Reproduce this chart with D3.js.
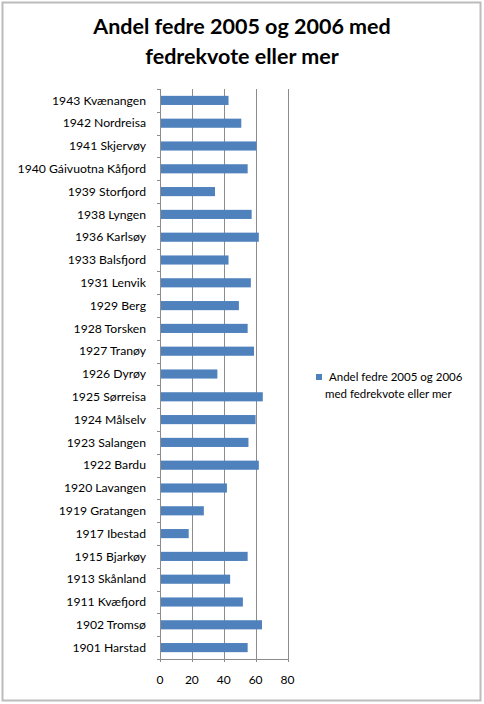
<!DOCTYPE html>
<html>
<head>
<meta charset="utf-8">
<script src="https://cdn.jsdelivr.net/npm/d3@7"></script>
<style>
  html, body { margin: 0; padding: 0; background: #fff; }
  svg { display: block; }
  text { font-family: Lato, "Open Sans", sans-serif; fill: #000; }
</style>
</head>
<body>
<svg id="chart" width="484" height="704"></svg>
<script>
const categories = [
  "1943 Kvænangen", "1942 Nordreisa", "1941 Skjervøy", "1940 Gáivuotna Kåfjord",
  "1939 Storfjord", "1938 Lyngen", "1936 Karlsøy", "1933 Balsfjord", "1931 Lenvik",
  "1929 Berg", "1928 Torsken", "1927 Tranøy", "1926 Dyrøy", "1925 Sørreisa",
  "1924 Målselv", "1923 Salangen", "1922 Bardu", "1920 Lavangen", "1919 Gratangen",
  "1917 Ibestad", "1915 Bjarkøy", "1913 Skånland", "1911 Kvæfjord", "1902 Tromsø",
  "1901 Harstad"
];
const values = [
  43, 51, 60.5, 55, 34.5, 57.5, 62, 43, 57, 49.5, 55, 59, 36, 64.5,
  60, 55.5, 62, 42, 27.5, 18, 55, 44, 52, 64, 55
];
const xTicks = [0, 20, 40, 60, 80];
const titleLines = ["Andel fedre 2005 og 2006 med", "fedrekvote eller mer"];
const legendLines = ["Andel fedre 2005 og 2006", "med fedrekvote  eller mer"];

const svg = d3.select("#chart");
const barColor = "#4F81BD";
const gridColor = "#8c8c8c";

// outer border
svg.append("rect")
  .attr("x", 2.5).attr("y", 2.5).attr("width", 478).attr("height", 698)
  .attr("fill", "#fff").attr("stroke", "#bcbcbc").attr("stroke-width", 2);

// title
svg.append("g").selectAll("text").data(titleLines).join("text")
  .attr("x", 242).attr("y", (d, i) => 34 + i * 30)
  .attr("text-anchor", "middle")
  .attr("font-size", 21.5).attr("font-weight", "bold")
  .text(d => d);

const plot = { left: 160, right: 287.5, top: 89, bottom: 659 };

const x = d3.scaleLinear().domain([0, 80]).range([plot.left, plot.right]);
const y = d3.scaleBand().domain(categories).range([plot.top, plot.bottom]).paddingInner(0.6).paddingOuter(0.3);
const yBand = d3.scaleBand().domain(categories).range([plot.top, plot.bottom]);

// gridlines
svg.append("g").selectAll("line").data(xTicks.slice(1)).join("line")
  .attr("x1", d => Math.round(x(d)) + 0.5).attr("x2", d => Math.round(x(d)) + 0.5)
  .attr("y1", plot.top).attr("y2", plot.bottom)
  .attr("stroke", gridColor).attr("stroke-width", 1);

// bars
svg.append("g").selectAll("rect").data(categories).join("rect")
  .attr("x", x(0))
  .attr("y", d => y(d))
  .attr("width", (d, i) => x(values[i]) - x(0))
  .attr("height", y.bandwidth())
  .attr("fill", barColor);

// y axis line and ticks
const yAxisG = svg.append("g");
yAxisG.append("line")
  .attr("x1", plot.left + 0.5).attr("x2", plot.left + 0.5)
  .attr("y1", plot.top).attr("y2", plot.bottom)
  .attr("stroke", gridColor);
const boundaries = categories.map(c => yBand(c)).concat([plot.bottom]);
yAxisG.selectAll("line.tick").data(boundaries).join("line").attr("class", "tick")
  .attr("x1", plot.left - 3).attr("x2", plot.left)
  .attr("y1", d => Math.round(d) + 0.5).attr("y2", d => Math.round(d) + 0.5)
  .attr("stroke", gridColor);
yAxisG.selectAll("text").data(categories).join("text")
  .attr("x", 146)
  .attr("y", d => yBand(d) + yBand.bandwidth() / 2)
  .attr("dy", "0.35em")
  .attr("text-anchor", "end")
  .attr("font-size", 12.2)
  .text(d => d);

// x axis
const xAxisG = svg.append("g");
xAxisG.append("line")
  .attr("x1", plot.left).attr("x2", plot.right + 1)
  .attr("y1", plot.bottom + 0.5).attr("y2", plot.bottom + 0.5)
  .attr("stroke", gridColor);
xAxisG.selectAll("line.tick").data(xTicks).join("line").attr("class", "tick")
  .attr("x1", d => Math.round(x(d)) + 0.5).attr("x2", d => Math.round(x(d)) + 0.5)
  .attr("y1", plot.bottom).attr("y2", plot.bottom + 3)
  .attr("stroke", gridColor);
xAxisG.selectAll("text").data(xTicks).join("text")
  .attr("x", d => x(d))
  .attr("y", 683.5)
  .attr("text-anchor", "middle")
  .attr("font-size", 12)
  .text(d => d);

// legend
const leg = svg.append("g");
leg.append("rect").attr("x", 316).attr("y", 374).attr("width", 6).attr("height", 6).attr("fill", barColor);
leg.selectAll("text").data(legendLines).join("text")
  .attr("x", (d, i) => i === 0 ? 329 : 325)
  .attr("y", (d, i) => 381 + i * 17)
  .attr("font-size", 11.5)
  .text(d => d);
</script>
</body>
</html>
